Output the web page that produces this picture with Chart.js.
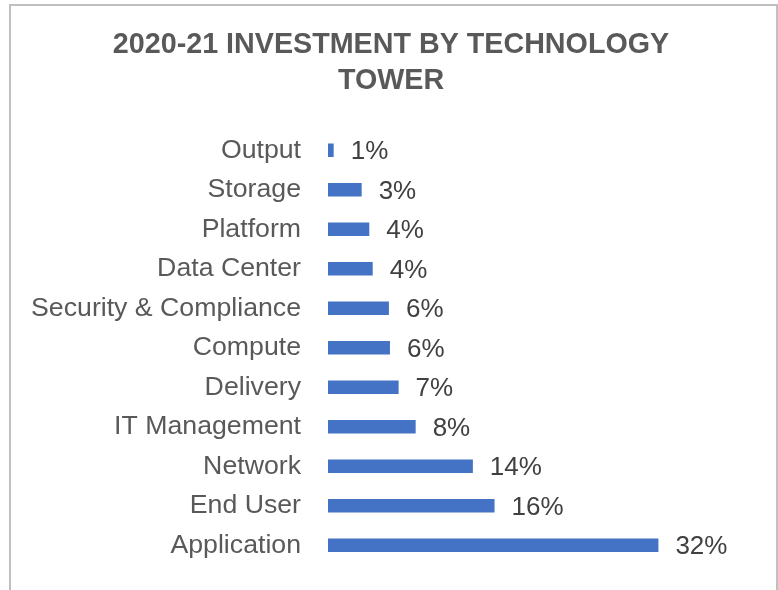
<!DOCTYPE html>
<html>
<head>
<meta charset="utf-8">
<script src="https://cdn.jsdelivr.net/npm/chart.js@4/dist/chart.umd.min.js"></script>
<style>
  html, body { margin: 0; padding: 0; background: #fff; }
  #wrap { position: relative; width: 778px; height: 590px; overflow: hidden; }
  #c { position: absolute; left: 0; top: 0; }
  #frame { position: absolute; left: 9px; top: 4px; width: 765px; height: 620px;
           border: 2px solid #c0c0c0; border-bottom: none; pointer-events: none; }
</style>
</head>
<body>
<div id="wrap">
  <canvas id="c" width="778" height="590"></canvas>
  <div id="frame"></div>
</div>
<script>
const categories = ['Output', 'Storage', 'Platform', 'Data Center', 'Security & Compliance', 'Compute', 'Delivery', 'IT Management', 'Network', 'End User', 'Application'];
const shares = [0.55, 3.26, 4.0, 4.33, 5.9, 6.0, 6.84, 8.49, 14.03, 16.13, 32.0];
const valueLabels = ['1%', '3%', '4%', '4%', '6%', '6%', '7%', '8%', '14%', '16%', '32%'];
const titleLines = ['2020-21 INVESTMENT BY TECHNOLOGY', 'TOWER'];

const FONT = "'Liberation Sans', Arial, Helvetica, sans-serif";

const valueLabelPlugin = {
  id: 'valueLabels',
  afterDatasetsDraw(chart) {
    const ctx = chart.ctx;
    const meta = chart.getDatasetMeta(0);
    ctx.save();
    ctx.font = '26px ' + FONT;
    ctx.fillStyle = '#404040';
    ctx.textAlign = 'left';
    ctx.textBaseline = 'middle';
    meta.data.forEach((bar, i) => {
      ctx.fillText(valueLabels[i], bar.x + 17, bar.y + 2);
    });
    ctx.restore();
  }
};

const centeredTitlePlugin = {
  id: 'centeredTitle',
  afterDraw(chart) {
    const ctx = chart.ctx;
    ctx.save();
    ctx.font = 'bold 28.7px ' + FONT;
    ctx.fillStyle = '#595959';
    ctx.textAlign = 'center';
    ctx.textBaseline = 'middle';
    titleLines.forEach((line, i) => {
      ctx.fillText(line, 391, 45.5 + i * 36);
    });
    ctx.restore();
  }
};

new Chart(document.getElementById('c'), {
  type: 'bar',
  data: {
    labels: categories,
    datasets: [{
      data: shares,
      backgroundColor: '#4472C4',
      borderWidth: 0,
      categoryPercentage: 1,
      barPercentage: 0.34
    }]
  },
  options: {
    indexAxis: 'y',
    responsive: false,
    animation: false,
    devicePixelRatio: 1,
    layout: { padding: { left: 0, right: 37, top: 130.5, bottom: 25 } },
    plugins: {
      legend: { display: false },
      tooltip: { enabled: false },
      title: { display: false }
    },
    scales: {
      x: {
        display: false,
        min: 0,
        max: 40
      },
      y: {
        grid: { display: false, drawTicks: false },
        border: { display: false },
        ticks: {
          color: '#595959',
          padding: 27,
          font: { family: FONT, size: 26.7 }
        },
        afterFit(scale) {
          scale.width = 328;
          scale.paddingTop = 0;
          scale.paddingBottom = 0;
        }
      }
    }
  },
  plugins: [valueLabelPlugin, centeredTitlePlugin]
});
</script>
</body>
</html>
